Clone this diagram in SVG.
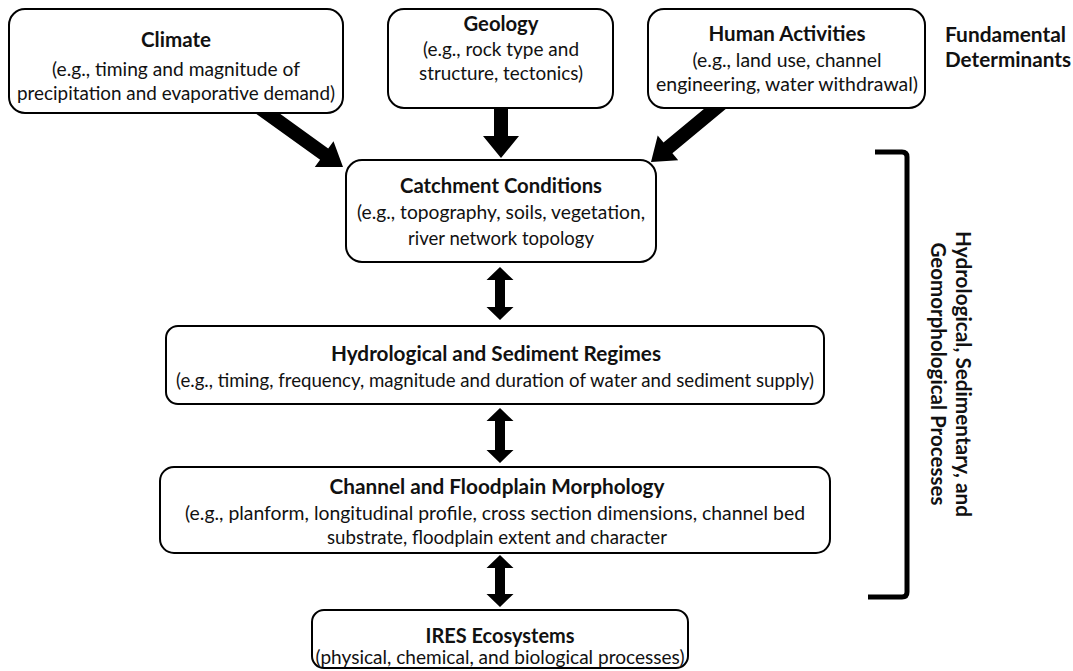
<svg xmlns="http://www.w3.org/2000/svg" width="1073" height="671" viewBox="0 0 1073 671">
<style>
.box{fill:#fff;stroke:#000;stroke-width:2}
.t{font-family:Lato,"Liberation Sans",sans-serif;font-weight:bold;font-size:20px;fill:#111;text-anchor:middle}
.b{font-family:Lato,"Liberation Sans",sans-serif;font-size:18.5px;fill:#111;text-anchor:middle}
.s{text-anchor:start}
.arr{fill:#000}
.br{fill:none;stroke:#000;stroke-width:5}
</style>
<rect width="1073" height="671" fill="#fff"/>
<g id="climate">
<rect class="box" x="9" y="9" width="334" height="104" rx="16"/>
<text class="t" x="176" y="47" textLength="70" lengthAdjust="spacingAndGlyphs">Climate</text>
<text class="b" x="176" y="76" textLength="248" lengthAdjust="spacingAndGlyphs">(e.g., timing and magnitude of</text>
<text class="b" x="176" y="100" textLength="318" lengthAdjust="spacingAndGlyphs">precipitation and evaporative demand)</text>
</g>
<g id="geology">
<rect class="box" x="388" y="9" width="225" height="99" rx="16"/>
<text class="t" x="501" y="31" textLength="75" lengthAdjust="spacingAndGlyphs">Geology</text>
<text class="b" x="501" y="56" textLength="156" lengthAdjust="spacingAndGlyphs">(e.g., rock type and</text>
<text class="b" x="501" y="80" textLength="164" lengthAdjust="spacingAndGlyphs">structure, tectonics)</text>
</g>
<g id="human">
<rect class="box" x="648" y="9" width="277" height="99" rx="16"/>
<text class="t" x="787" y="41" textLength="157" lengthAdjust="spacingAndGlyphs">Human Activities</text>
<text class="b" x="787" y="67" textLength="189" lengthAdjust="spacingAndGlyphs">(e.g., land use, channel</text>
<text class="b" x="787" y="91" textLength="262" lengthAdjust="spacingAndGlyphs">engineering, water withdrawal)</text>
</g>
<g id="fundamental">
<text class="t s" x="945" y="42" textLength="121" lengthAdjust="spacingAndGlyphs">Fundamental</text>
<text class="t s" x="945" y="67" textLength="126" lengthAdjust="spacingAndGlyphs">Determinants</text>
</g>
<g id="catchment">
<rect class="box" x="346" y="160" width="310" height="102" rx="16"/>
<text class="t" x="501" y="193" textLength="202" lengthAdjust="spacingAndGlyphs">Catchment Conditions</text>
<text class="b" x="501" y="219" textLength="288" lengthAdjust="spacingAndGlyphs">(e.g., topography, soils, vegetation,</text>
<text class="b" x="501" y="245" textLength="186" lengthAdjust="spacingAndGlyphs">river network topology</text>
</g>
<g id="hydro">
<rect class="box" x="166" y="326" width="658" height="78" rx="12"/>
<text class="t" x="496" y="361" textLength="330" lengthAdjust="spacingAndGlyphs">Hydrological and Sediment Regimes</text>
<text class="b" x="495" y="387" textLength="638" lengthAdjust="spacingAndGlyphs">(e.g., timing, frequency, magnitude and duration of water and sediment supply)</text>
</g>
<g id="channel">
<rect class="box" x="160" y="467" width="670" height="86" rx="14"/>
<text class="t" x="497" y="494" textLength="335" lengthAdjust="spacingAndGlyphs">Channel and Floodplain Morphology</text>
<text class="b" x="495" y="520" textLength="620" lengthAdjust="spacingAndGlyphs">(e.g., planform, longitudinal profile, cross section dimensions, channel bed</text>
<text class="b" x="497" y="544" textLength="340" lengthAdjust="spacingAndGlyphs">substrate, floodplain extent and character</text>
</g>
<g id="ires">
<rect class="box" x="312" y="610" width="376" height="58" rx="12"/>
<text class="t" x="500" y="643" textLength="149" lengthAdjust="spacingAndGlyphs">IRES Ecosystems</text>
<text class="b" x="500" y="664" textLength="369" lengthAdjust="spacingAndGlyphs">(physical, chemical, and biological processes)</text>
</g>
<g id="processes">
<path class="br" d="M875 152 H902 Q907 152 907 157 V592 Q907 597 902 597 H868"/>
<g transform="translate(956,374) rotate(90)">
<text class="t" x="0" y="0" textLength="286" lengthAdjust="spacingAndGlyphs">Hydrological, Sedimentary, and</text>
<text class="t" x="0" y="25" textLength="263" lengthAdjust="spacingAndGlyphs">Geomorphological Processes</text>
</g>
</g>
<g id="connectors">
<polygon class="arr" points="279,113 328.2,148.5 333.5,141.2 343,167 314.8,167.1 320.1,159.8 255,113"/>
<polygon class="arr" points="494,108 508,108 508,136 519,136 501,158 483,136 494,136"/>
<polygon class="arr" points="705.1,108 663.5,142.6 657.7,135.6 651,162 678.2,160.3 672.4,153.3 726.9,108"/>
<polygon class="arr" points="500,267 513.5,280 505,280 505,307 513.5,307 500,320 486.5,307 495,307 495,280 486.5,280"/>
<polygon class="arr" points="500,408 513.5,421 505,421 505,450 513.5,450 500,463 486.5,450 495,450 495,421 486.5,421"/>
<polygon class="arr" points="500,555 513.5,568 505,568 505,594 513.5,594 500,607 486.5,594 495,594 495,568 486.5,568"/>
</g>
</svg>
